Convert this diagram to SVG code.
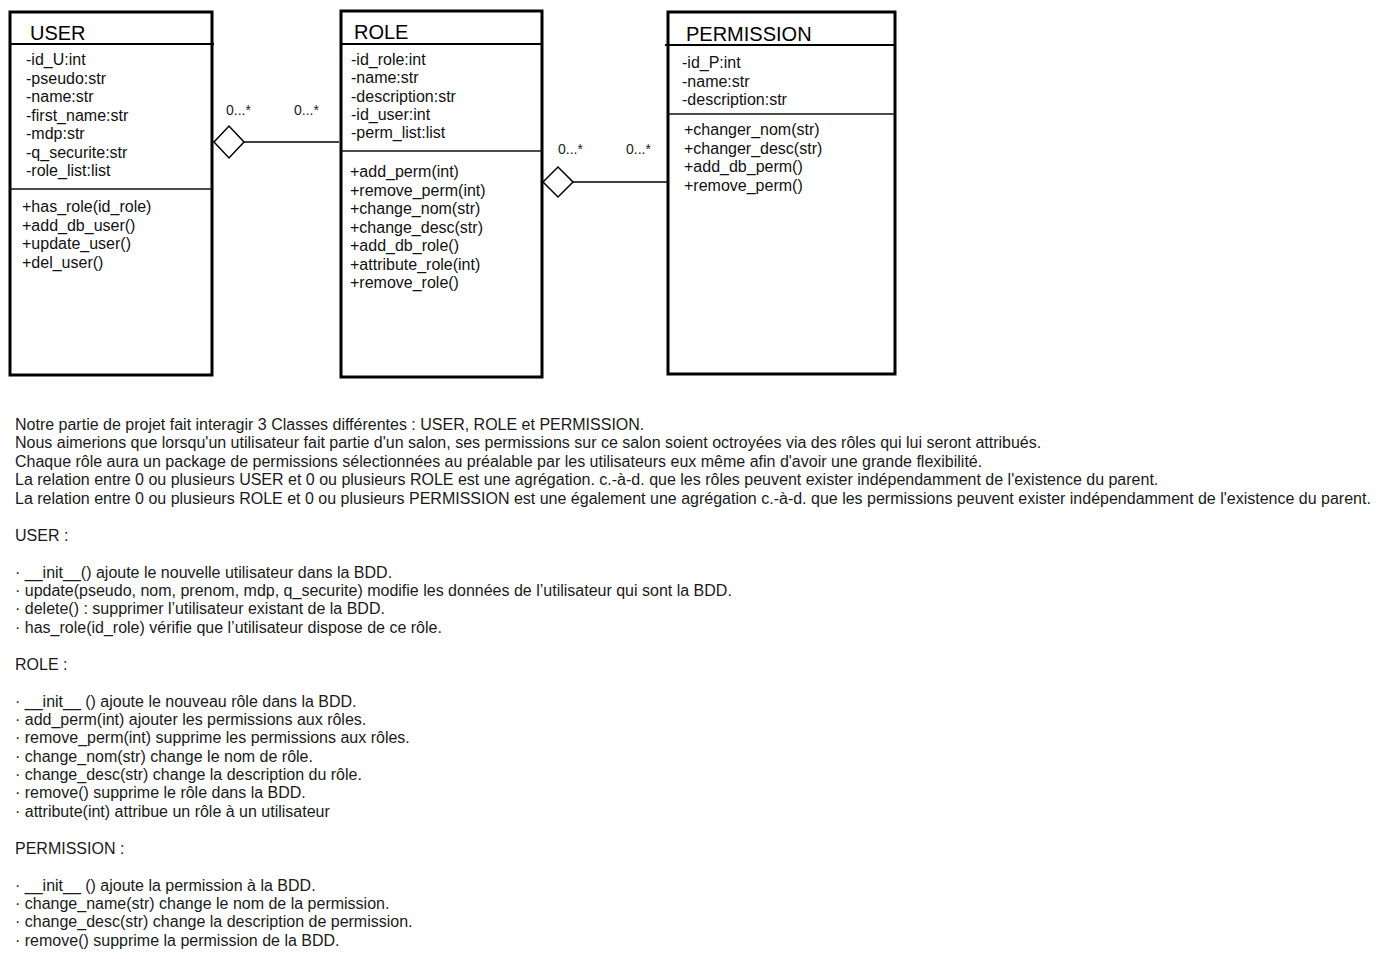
<svg xmlns="http://www.w3.org/2000/svg" width="1380" height="959" viewBox="0 0 1380 959">
  <style>
    .box { fill: #fff; stroke: #000; stroke-width: 3; }
    .hdr { stroke: #000; stroke-width: 2; }
    .sep { stroke: #111; stroke-width: 1.5; }
    .title { font-family: "Liberation Sans", Arial, sans-serif; font-size: 20px; fill: #000; }
    .mem { font-family: "Liberation Sans", Arial, sans-serif; font-size: 16px; fill: #111; }
    .mult { font-family: "Liberation Sans", Arial, sans-serif; font-size: 14px; fill: #222; }
    .body { font-family: "Liberation Sans", Arial, sans-serif; font-size: 16px; fill: #1a1a1a; }
    .edge { stroke: #000; stroke-width: 1.5; fill: none; }
    .diamond { fill: #fff; stroke: #000; stroke-width: 1.5; }
  </style>

  <rect width="1380" height="959" fill="#fff"/>

  <!-- class USER -->
  <g id="user">
    <rect class="box" x="10" y="12" width="202" height="363"/>
    <line class="hdr" x1="10" y1="44" x2="214" y2="44"/>
    <line class="sep" x1="10" y1="189" x2="212" y2="189"/>
    <text class="title" x="30" y="40">USER</text>
    <text class="mem" x="26" y="65">-id_U:int</text>
    <text class="mem" x="26" y="83.5">-pseudo:str</text>
    <text class="mem" x="26" y="102">-name:str</text>
    <text class="mem" x="26" y="120.5">-first_name:str</text>
    <text class="mem" x="26" y="139">-mdp:str</text>
    <text class="mem" x="26" y="157.5">-q_securite:str</text>
    <text class="mem" x="26" y="176">-role_list:list</text>
    <text class="mem" x="22" y="212">+has_role(id_role)</text>
    <text class="mem" x="22" y="230.5">+add_db_user()</text>
    <text class="mem" x="22" y="249">+update_user()</text>
    <text class="mem" x="22" y="267.5">+del_user()</text>
  </g>

  <!-- class ROLE -->
  <g id="role">
    <rect class="box" x="341" y="11" width="201" height="366"/>
    <line class="hdr" x1="341" y1="44" x2="542" y2="44"/>
    <line class="sep" x1="341" y1="151" x2="542" y2="151"/>
    <text class="title" x="354" y="39">ROLE</text>
    <text class="mem" x="351" y="65">-id_role:int</text>
    <text class="mem" x="351" y="83">-name:str</text>
    <text class="mem" x="351" y="101.5">-description:str</text>
    <text class="mem" x="351" y="120">-id_user:int</text>
    <text class="mem" x="351" y="138">-perm_list:list</text>
    <text class="mem" x="350" y="177">+add_perm(int)</text>
    <text class="mem" x="350" y="195.5">+remove_perm(int)</text>
    <text class="mem" x="350" y="214">+change_nom(str)</text>
    <text class="mem" x="350" y="232.5">+change_desc(str)</text>
    <text class="mem" x="350" y="251">+add_db_role()</text>
    <text class="mem" x="350" y="269.5">+attribute_role(int)</text>
    <text class="mem" x="350" y="288">+remove_role()</text>
  </g>

  <!-- class PERMISSION -->
  <g id="permission">
    <rect class="box" x="668" y="12" width="227" height="362"/>
    <line class="hdr" x1="665" y1="45" x2="895" y2="45"/>
    <line class="sep" x1="668" y1="114" x2="895" y2="114"/>
    <text class="title" x="686" y="41">PERMISSION</text>
    <text class="mem" x="682" y="68">-id_P:int</text>
    <text class="mem" x="682" y="86.5">-name:str</text>
    <text class="mem" x="682" y="105">-description:str</text>
    <text class="mem" x="684" y="135">+changer_nom(str)</text>
    <text class="mem" x="684" y="153.5">+changer_desc(str)</text>
    <text class="mem" x="684" y="172">+add_db_perm()</text>
    <text class="mem" x="684" y="190.5">+remove_perm()</text>
  </g>

  <!-- aggregations -->
  <g id="connectors">
    <line class="edge" x1="244" y1="142" x2="339" y2="142"/>
    <polygon class="diamond" points="214,142 229,126 244,142 229,158"/>
    <text class="mult" x="226" y="115">0...*</text>
    <text class="mult" x="294" y="115">0...*</text>

    <line class="edge" x1="573" y1="182" x2="667" y2="182"/>
    <polygon class="diamond" points="543,182 558,167 573,182 558,197"/>
    <text class="mult" x="558" y="154">0...*</text>
    <text class="mult" x="626" y="154">0...*</text>
  </g>

  <!-- description -->
  <g id="notes">
    <text class="body" x="15" y="429.5">Notre partie de projet fait interagir 3 Classes différentes : USER, ROLE et PERMISSION.</text>
    <text class="body" x="15" y="448">Nous aimerions que lorsqu'un utilisateur fait partie d'un salon, ses permissions sur ce salon soient octroyées via des rôles qui lui seront attribués.</text>
    <text class="body" x="15" y="466.5">Chaque rôle aura un package de permissions sélectionnées au préalable par les utilisateurs eux même afin d'avoir une grande flexibilité.</text>
    <text class="body" x="15" y="485">La relation entre 0 ou plusieurs USER et 0 ou plusieurs ROLE est une agrégation. c.-à-d. que les rôles peuvent exister indépendamment de l'existence du parent.</text>
    <text class="body" x="15" y="503.5">La relation entre 0 ou plusieurs ROLE et 0 ou plusieurs PERMISSION est une également une agrégation c.-à-d. que les permissions peuvent exister indépendamment de l'existence du parent.</text>

    <text class="body" x="15" y="540.5">USER :</text>
    <text class="body" x="15" y="577.5">· __init__() ajoute le nouvelle utilisateur dans la BDD.</text>
    <text class="body" x="15" y="596">· update(pseudo, nom, prenom, mdp, q_securite) modifie les données de l’utilisateur qui sont la BDD.</text>
    <text class="body" x="15" y="614">· delete() : supprimer l’utilisateur existant de la BDD.</text>
    <text class="body" x="15" y="632.5">· has_role(id_role) vérifie que l’utilisateur dispose de ce rôle.</text>

    <text class="body" x="15" y="669.5">ROLE :</text>
    <text class="body" x="15" y="706.5">· __init__ () ajoute le nouveau rôle dans la BDD.</text>
    <text class="body" x="15" y="724.5">· add_perm(int) ajouter les permissions aux rôles.</text>
    <text class="body" x="15" y="743">· remove_perm(int) supprime les permissions aux rôles.</text>
    <text class="body" x="15" y="761.5">· change_nom(str) change le nom de rôle.</text>
    <text class="body" x="15" y="779.5">· change_desc(str) change la description du rôle.</text>
    <text class="body" x="15" y="798">· remove() supprime le rôle dans la BDD.</text>
    <text class="body" x="15" y="816.5">· attribute(int) attribue un rôle à un utilisateur</text>

    <text class="body" x="15" y="853.5">PERMISSION :</text>
    <text class="body" x="15" y="890.5">· __init__ () ajoute la permission à la BDD.</text>
    <text class="body" x="15" y="908.5">· change_name(str) change le nom de la permission.</text>
    <text class="body" x="15" y="927">· change_desc(str) change la description de permission.</text>
    <text class="body" x="15" y="945.5">· remove() supprime la permission de la BDD.</text>
  </g>
</svg>
